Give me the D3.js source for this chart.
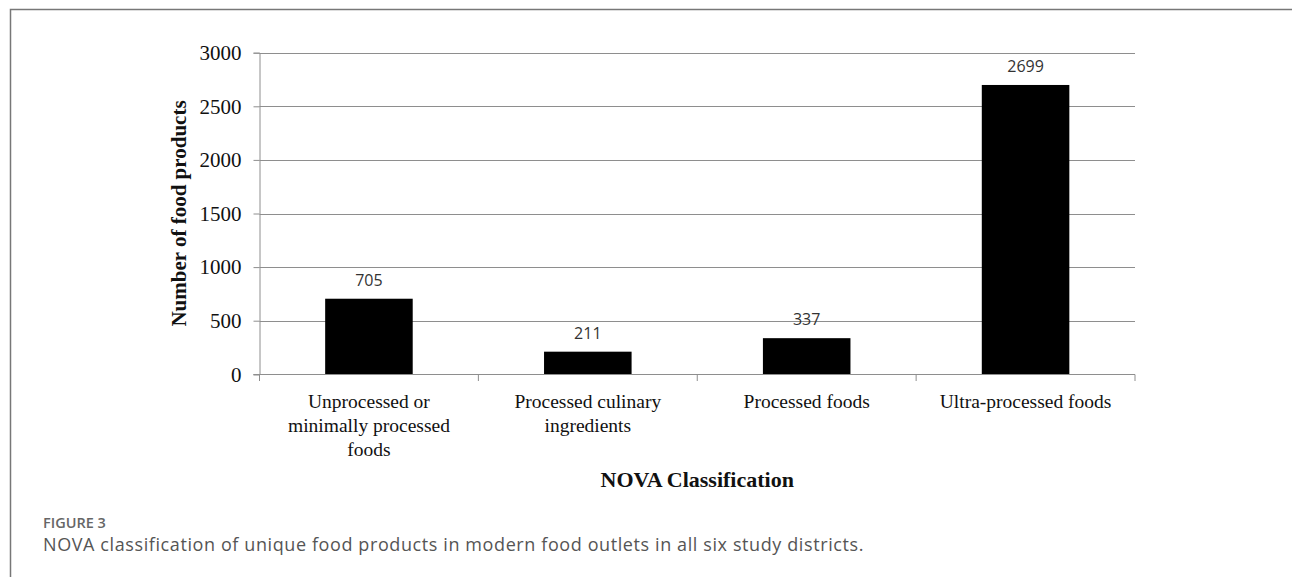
<!DOCTYPE html>
<html>
<head>
<meta charset="utf-8">
<script src="https://cdn.jsdelivr.net/npm/d3@7"></script>
<style>
  body { margin: 0; background: #fff; }
</style>
</head>
<body>
<div id="chart"></div>
<script>
const categories = [
  ["Unprocessed or", "minimally processed", "foods"],
  ["Processed culinary", "ingredients"],
  ["Processed foods"],
  ["Ultra-processed foods"]
];
const counts = [705, 211, 337, 2699];
const yTicks = [0, 500, 1000, 1500, 2000, 2500, 3000];

const W = 1292, H = 577;
const plot = { left: 259.5, right: 1135, top: 52.7, bottom: 374.3 };

const svg = d3.select("#chart")
  .append("svg")
  .attr("width", W)
  .attr("height", H);

// frame (top and left only)
svg.append("path")
  .attr("d", `M10.5,${H} L10.5,9.5 L${W},9.5`)
  .attr("fill", "none")
  .attr("stroke", "#777")
  .attr("stroke-width", 1.5);

const keys = categories.map((c, i) => i);
const x = d3.scaleBand()
  .domain(keys)
  .range([plot.left, plot.right])
  .paddingInner(0.6)
  .paddingOuter(0.3);

const y = d3.scaleLinear()
  .domain([0, 3000])
  .range([plot.bottom, plot.top]);

const serif = "'Liberation Serif', 'Times New Roman', serif";
const gridColor = "#8e8e8e";

// gridlines
svg.append("g")
  .selectAll("line")
  .data(yTicks.filter(d => d > 0))
  .join("line")
  .attr("x1", plot.left)
  .attr("x2", plot.right)
  .attr("y1", d => Math.round(y(d)) + 0.5)
  .attr("y2", d => Math.round(y(d)) + 0.5)
  .attr("stroke", gridColor)
  .attr("stroke-width", 1);

// y axis
const yAxis = svg.append("g")
  .attr("transform", `translate(${plot.left},0)`)
  .call(d3.axisLeft(y).tickValues(yTicks).tickSize(6).tickPadding(12).tickFormat(d3.format("d")));
yAxis.select(".domain").attr("stroke", gridColor);
yAxis.selectAll(".tick line").attr("stroke", gridColor);
yAxis.selectAll(".tick text")
  .attr("fill", "#111")
  .style("font-family", serif)
  .style("font-size", "21px");

// bars
svg.append("g")
  .selectAll("rect")
  .data(counts)
  .join("rect")
  .attr("x", (d, i) => x(i))
  .attr("width", x.bandwidth())
  .attr("y", d => y(d))
  .attr("height", d => y(0) - y(d))
  .attr("fill", "#000");

// value labels
svg.append("g")
  .selectAll("text")
  .data(counts)
  .join("text")
  .attr("x", (d, i) => x(i) + x.bandwidth() / 2)
  .attr("y", d => y(d) - 13)
  .attr("text-anchor", "middle")
  .attr("fill", "#333")
  .style("font-family", "'Open Sans', sans-serif")
  .style("font-size", "16px")
  .text(d => d);

// x axis line and boundary ticks
const step = x.step();
const bounds = d3.range(categories.length + 1).map(i => plot.left + i * step);
svg.append("line")
  .attr("x1", plot.left - 6)
  .attr("x2", plot.right)
  .attr("y1", Math.round(y(0)) + 0.5)
  .attr("y2", Math.round(y(0)) + 0.5)
  .attr("stroke", gridColor);
svg.append("g")
  .selectAll("line")
  .data(bounds)
  .join("line")
  .attr("x1", d => d)
  .attr("x2", d => d)
  .attr("y1", Math.round(y(0)) + 0.5)
  .attr("y2", Math.round(y(0)) + 7)
  .attr("stroke", gridColor);

// category labels
const catG = svg.append("g")
  .selectAll("text")
  .data(categories)
  .join("text")
  .attr("text-anchor", "middle")
  .attr("fill", "#111")
  .style("font-family", serif)
  .style("font-size", "19.5px");
catG.selectAll("tspan")
  .data((d, i) => d.map(line => ({ line, i })))
  .join("tspan")
  .attr("x", d => x(d.i) + x.bandwidth() / 2)
  .attr("y", (d, j) => 408 + j * 24)
  .text(d => d.line);

// axis titles
svg.append("text")
  .attr("transform", `translate(186,${(plot.top + plot.bottom) / 2}) rotate(-90)`)
  .attr("text-anchor", "middle")
  .attr("fill", "#111")
  .style("font-family", serif)
  .style("font-size", "21px")
  .style("font-weight", "bold")
  .text("Number of food products");

svg.append("text")
  .attr("x", (plot.left + plot.right) / 2)
  .attr("y", 487)
  .attr("text-anchor", "middle")
  .attr("fill", "#111")
  .style("font-family", serif)
  .style("font-size", "22px")
  .style("font-weight", "bold")
  .text("NOVA Classification");

// figure caption
svg.append("text")
  .attr("x", 43)
  .attr("y", 528)
  .attr("fill", "#666")
  .style("font-family", "'Open Sans', sans-serif")
  .style("font-size", "14.5px")
  .style("font-weight", "600")
  .text("FIGURE 3");

svg.append("text")
  .attr("x", 43)
  .attr("y", 551)
  .attr("fill", "#555")
  .style("font-family", "'Open Sans', sans-serif")
  .style("font-size", "18px")
  .style("letter-spacing", "0.6px")
  .text("NOVA classification of unique food products in modern food outlets in all six study districts.");
</script>
</body>
</html>
